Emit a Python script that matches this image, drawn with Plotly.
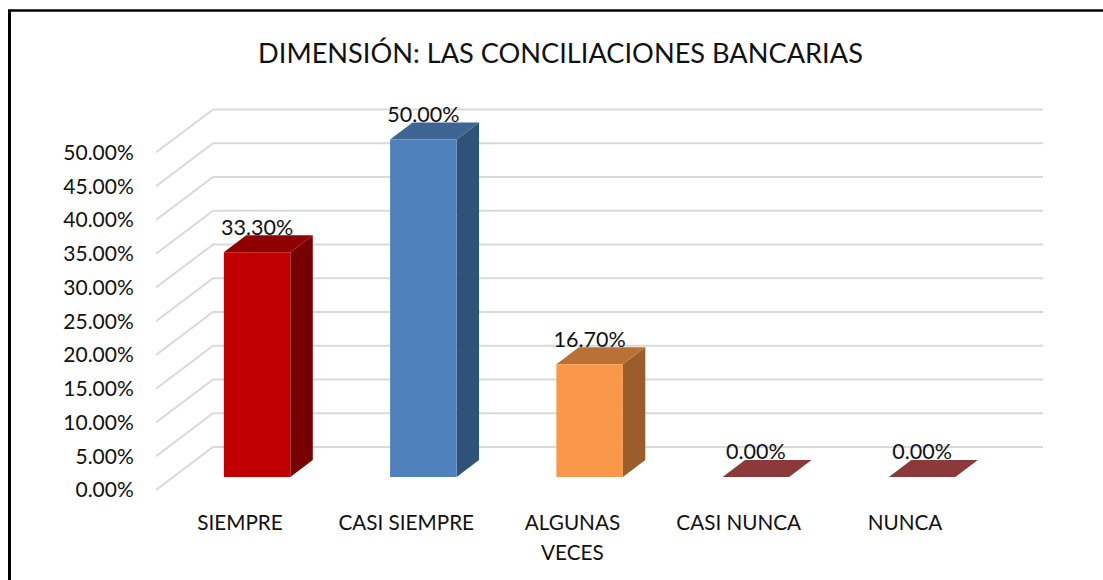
import plotly.graph_objects as go

CATEGORIES = ["SIEMPRE", "CASI SIEMPRE", "ALGUNAS", "CASI NUNCA", "NUNCA"]
VALUES = [0.333, 0.50, 0.167, 0.0, 0.0]
LABEL_SECOND_LINE = "VECES"
TITLE = "DIMENSIÓN: LAS CONCILIACIONES BANCARIAS"
Y_TICKS = [0.00, 0.05, 0.10, 0.15, 0.20, 0.25, 0.30, 0.35, 0.40, 0.45, 0.50]

FRONT_COLORS = ["#C00000", "#4F81BD", "#F9984B", "#C0504D", "#C0504D"]
TOP_COLORS = ["#8E0000", "#3E6591", "#B97137", "#8C3A39", "#8C3A39"]
SIDE_COLORS = ["#760000", "#2F5279", "#9B5D2C", "#8C3A39", "#8C3A39"]
GRID = "#D9D9D9"
FONT = "Lato"
INK = "#111111"

# 3-D projection, in axis units
X_MIN, X_MAX = -0.505, 4.83
Y_MIN, Y_MAX = -0.0148, 0.5778
WALL_DX, WALL_DY = 0.343, 0.0637      # front of floor -> back wall
BAR_DX, BAR_DY = 0.135, 0.0252        # depth of a bar
BAR_BASE = 0.0193                     # front face base above front floor edge
BAR_W = 0.40
BAR_CENTER_OFF = 0.103
LABEL_DY = 0.0341

# page geometry of the plot area, used for the frame and the second label line
PLOT_L, PLOT_W, PLOT_BOTTOM, PLOT_H = 156, 887, 500, 400

fig = go.Figure()

# floor / wall gridlines
gx, gy = [], []
for t in Y_TICKS:
    gx += [X_MIN, X_MIN + WALL_DX, X_MAX, None]
    gy += [t, t + WALL_DY, t + WALL_DY, None]
fig.add_trace(go.Scatter(x=gx, y=gy, mode="lines", line=dict(color=GRID, width=2),
                         hoverinfo="skip", zorder=0))

centers = [i + BAR_CENTER_OFF for i in range(len(VALUES))]

# side and top faces
for c, v, side, top in zip(centers, VALUES, SIDE_COLORS, TOP_COLORS):
    l, r = c - BAR_W / 2, c + BAR_W / 2
    b, h = BAR_BASE, BAR_BASE + v
    if v > 0:
        fig.add_trace(go.Scatter(
            x=[r, r + BAR_DX, r + BAR_DX, r, r],
            y=[b, b + BAR_DY, h + BAR_DY, h, b],
            mode="lines", fill="toself", fillcolor=side, line=dict(width=0),
            hoverinfo="skip", zorder=1))
    fig.add_trace(go.Scatter(
        x=[l, r, r + BAR_DX, l + BAR_DX, l],
        y=[h, h, h + BAR_DY, h + BAR_DY, h],
        mode="lines", fill="toself", fillcolor=top, line=dict(width=0),
        hoverinfo="skip", zorder=1))

# front faces
fig.add_trace(go.Bar(x=centers, y=VALUES, base=BAR_BASE, width=BAR_W,
                     marker=dict(color=FRONT_COLORS, line=dict(width=0)), zorder=2))

# data labels
fig.add_trace(go.Scatter(
    x=centers, y=[v + BAR_BASE + LABEL_DY for v in VALUES],
    text=[f"{v:.2%}" for v in VALUES], mode="text", textposition="middle center",
    textfont=dict(family=FONT, size=21.5, color=INK), hoverinfo="skip", zorder=3))

fig.update_layout(
    width=1103, height=580, autosize=False, showlegend=False,
    paper_bgcolor="white", plot_bgcolor="white",
    margin=dict(l=156, r=60, t=100, b=80, pad=0),
    font=dict(family=FONT, color=INK),
    title=dict(text=TITLE, x=560.5 / 1103, xanchor="center", y=1 - 53 / 580, yanchor="middle",
               font=dict(family=FONT, size=27.2, color=INK)),
    xaxis=dict(range=[X_MIN, X_MAX], tickvals=list(range(len(CATEGORIES))), ticktext=CATEGORIES,
               showgrid=False, zeroline=False, showline=False, ticks="outside", ticklen=4,
               tickcolor="rgba(0,0,0,0)", tickangle=0,
               tickfont=dict(family=FONT, size=20.7, color=INK)),
    yaxis=dict(range=[Y_MIN, Y_MAX], tickvals=Y_TICKS, tickformat=".2%",
               showgrid=False, zeroline=False, showline=False, ticks="outside", ticklen=17,
               tickcolor="rgba(0,0,0,0)", tickfont=dict(family=FONT, size=21, color=INK)),
    annotations=[dict(text=LABEL_SECOND_LINE, x=2, xref="x", y=-52 / PLOT_H, yref="paper",
                      xanchor="center", yanchor="middle", showarrow=False,
                      font=dict(family=FONT, size=20.7, color=INK))],
    shapes=[
        dict(type="line", xref="paper", yref="paper",
             x0=(8 - PLOT_L) / PLOT_W, x1=(1103 - PLOT_L) / PLOT_W,
             y0=(PLOT_BOTTOM - 10.5) / PLOT_H, y1=(PLOT_BOTTOM - 10.5) / PLOT_H,
             line=dict(color="black", width=2.5)),
        dict(type="line", xref="paper", yref="paper",
             x0=(9.5 - PLOT_L) / PLOT_W, x1=(9.5 - PLOT_L) / PLOT_W,
             y0=(PLOT_BOTTOM - 10) / PLOT_H, y1=(PLOT_BOTTOM - 580) / PLOT_H,
             line=dict(color="black", width=3)),
    ],
)

fig.write_html("out.html", config=dict(displayModeBar=False),
               post_script="document.body.style.margin='0';document.body.style.overflow='hidden';")
